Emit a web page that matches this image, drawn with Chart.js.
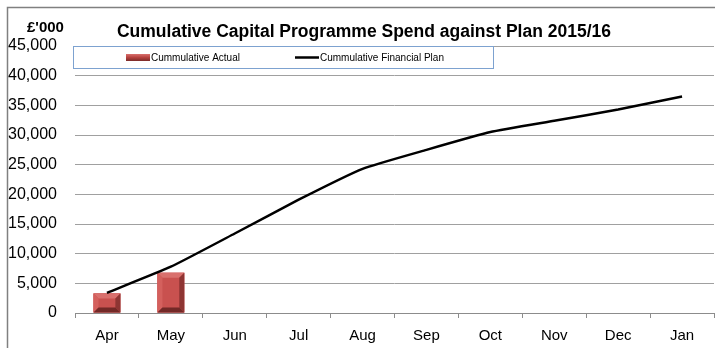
<!DOCTYPE html>
<html>
<head>
<meta charset="utf-8">
<script src="https://cdn.jsdelivr.net/npm/chart.js@4/dist/chart.umd.min.js"></script>
<style>
html,body{margin:0;padding:0;background:#fff;}
canvas{display:block;}
</style>
</head>
<body>
<canvas id="c" width="715" height="348"></canvas>
<script>
const categories = ['Apr','May','Jun','Jul','Aug','Sep','Oct','Nov','Dec','Jan'];
const actualValues = [3300, 6800, null, null, null, null, null, null, null, null];
const planValues = [3400, 7800, 13400, 19100, 24300, 27500, 30500, 32400, 34300, 36500];
const yMin = 0, yMax = 45000, yStep = 5000;
const titleText = 'Cumulative Capital Programme Spend against Plan 2015/16';
const unitText = "£'000";
const actualLabel = 'Cummulative Actual';
const planLabel = 'Cummulative Financial Plan';

const FONT = '"Liberation Sans", Arial, sans-serif';

const bevelPlugin = {
  id: 'bevel',
  afterDatasetDraw(chart, args) {
    if (args.meta.type !== 'bar') return;
    const ctx = chart.ctx;
    args.meta.data.forEach(el => {
      if (el.skip || el.y == null || isNaN(el.y)) return;
      const l = el.x - el.width / 2, r = el.x + el.width / 2;
      const t = Math.min(el.y, el.base), b = Math.max(el.y, el.base);
      const bw = Math.min(5, (b - t) / 3);
      ctx.save();
      const poly = (pts, col) => {
        ctx.beginPath();
        ctx.moveTo(pts[0][0], pts[0][1]);
        for (let i = 1; i < pts.length; i++) ctx.lineTo(pts[i][0], pts[i][1]);
        ctx.closePath();
        ctx.fillStyle = col;
        ctx.fill();
      };
      poly([[l,t],[r,t],[r,b],[l,b]], '#c9514f');
      poly([[l,t],[r,t],[r-bw,t+bw],[l+bw,t+bw]], '#d9706d');
      poly([[l,t],[l+bw,t+bw],[l+bw,b-bw],[l,b]], '#d4605d');
      poly([[r,t],[r,b],[r-bw,b-bw],[r-bw,t+bw]], '#8e3533');
      poly([[l,b],[r,b],[r-bw,b-bw],[l+bw,b-bw]], '#732927');
      ctx.restore();
    });
  }
};

const decorPlugin = {
  id: 'decor',
  beforeDraw(chart) {
    const ctx = chart.ctx;
    ctx.save();
    ctx.fillStyle = '#fff';
    ctx.fillRect(0, 0, chart.width, chart.height);
    ctx.restore();
  },
  afterDraw(chart) {
    const ctx = chart.ctx;
    ctx.save();
    // frame
    ctx.strokeStyle = '#808080';
    ctx.lineWidth = 1.5;
    ctx.beginPath();
    ctx.moveTo(7.5, 348);
    ctx.lineTo(7.5, 7.5);
    ctx.lineTo(715, 7.5);
    ctx.stroke();
    // title
    ctx.fillStyle = '#000';
    ctx.font = 'bold 17.5px ' + FONT;
    ctx.textAlign = 'center';
    ctx.textBaseline = 'alphabetic';
    ctx.fillText(titleText, 364, 37);
    ctx.font = 'bold 15px ' + FONT;
    ctx.textAlign = 'left';
    ctx.fillText(unitText, 27, 32);
    // legend box
    ctx.fillStyle = '#fff';
    ctx.fillRect(73, 46.5, 420, 22);
    ctx.strokeStyle = '#7da2d0';
    ctx.lineWidth = 1;
    ctx.strokeRect(73.5, 46.5, 420, 22);
    // red swatch
    const g = ctx.createLinearGradient(0, 54, 0, 61);
    g.addColorStop(0, '#d9706d');
    g.addColorStop(0.5, '#b5423f');
    g.addColorStop(1, '#7a2b29');
    ctx.fillStyle = g;
    ctx.fillRect(126, 54, 24, 7);
    // line swatch
    ctx.strokeStyle = '#000';
    ctx.lineWidth = 2.5;
    ctx.beginPath();
    ctx.moveTo(295, 57.5);
    ctx.lineTo(319, 57.5);
    ctx.stroke();
    ctx.fillStyle = '#000';
    ctx.font = '10px ' + FONT;
    ctx.textBaseline = 'middle';
    ctx.fillText(actualLabel, 151, 58);
    ctx.fillText(planLabel, 320, 58);
    ctx.restore();
  }
};

new Chart(document.getElementById('c'), {
  type: 'bar',
  data: {
    labels: categories,
    datasets: [
      {
        type: 'line',
        label: planLabel,
        data: planValues,
        borderColor: '#000',
        borderWidth: 2.5,
        pointRadius: 0,
        tension: 0.15,
        fill: false,
        order: 0
      },
      {
        type: 'bar',
        label: actualLabel,
        data: actualValues,
        backgroundColor: '#c9514f',
        barPercentage: 0.42,
        categoryPercentage: 1,
        order: 1
      }
    ]
  },
  options: {
    responsive: false,
    devicePixelRatio: 1,
    animation: false,
    layout: { padding: { top: 46, right: 1, bottom: 0, left: 0 } },
    plugins: {
      legend: { display: false },
      title: { display: false },
      tooltip: { enabled: false }
    },
    scales: {
      x: {
        offset: true,
        grid: { display: true, drawOnChartArea: false, drawTicks: true, tickLength: 5, color: '#8c8c8c', offset: true },
        border: { display: true, color: '#8c8c8c', width: 1 },
        ticks: { color: '#000', font: { family: FONT, size: 15 }, padding: 9, maxRotation: 0, autoSkip: false },
        afterFit(s) { s.height = 35; }
      },
      y: {
        min: yMin,
        max: yMax,
        grid: { color: '#a0a0a0', lineWidth: 1, drawTicks: false },
        border: { display: false },
        ticks: {
          stepSize: yStep,
          color: '#000',
          font: { family: FONT, size: 16 },
          padding: 18,
          callback: v => v.toLocaleString('en-GB')
        },
        afterFit(s) { s.width = 75; }
      }
    }
  },
  plugins: [decorPlugin, bevelPlugin]
});
</script>
</body>
</html>
